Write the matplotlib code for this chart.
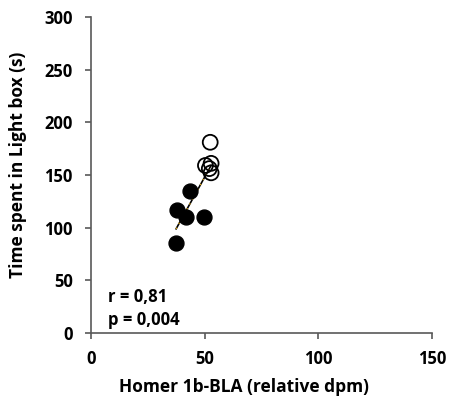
import numpy as np
import matplotlib.pyplot as plt

plt.rcParams['font.family'] = ['Open Sans', 'DejaVu Sans']
plt.rcParams['font.weight'] = 'bold'

# filled group
x_filled = [37.4, 37.8, 41.8, 43.6, 49.7]
y_filled = [85, 117, 110, 135, 110]
# open group
x_open = [50.3, 52.8, 52.0, 52.8, 52.4]
y_open = [159, 161, 156, 152, 181]

xlabel = 'Homer 1b-BLA (relative dpm)'
ylabel = 'Time spent in Light box (s)'
stats = ['r = 0,81', 'p = 0,004']

fig = plt.figure(figsize=(4.51, 4.04), dpi=100)
ax = fig.add_axes([0.202, 0.176, 0.756, 0.782])

xa = np.array(x_filled + x_open)
ya = np.array(y_filled + y_open)
m, b = np.polyfit(xa, ya, 1)
xs = np.array([xa.min(), xa.max()])
ax.plot(xs, m * xs + b, color='black', lw=1.2, zorder=1)
ax.plot(xs, m * xs + b, color='#d4a017', lw=1.0, ls=(0, (1, 3)), zorder=1)

ax.scatter(x_filled, y_filled, s=115, color='black', zorder=2)
ax.scatter(x_open, y_open, s=115, facecolors='none', edgecolors='black', linewidths=1.3, zorder=3)

ax.set_xlim(0, 150)
ax.set_ylim(0, 300)
ax.set_xticks([0, 50, 100, 150])
ax.set_yticks(range(0, 301, 50))
for s in ['top', 'right']:
    ax.spines[s].set_visible(False)
for s in ['left', 'bottom']:
    ax.spines[s].set_color('#595959')
    ax.spines[s].set_linewidth(1.2)
ax.tick_params(direction='out', length=4.3, width=1.2, color='#595959', labelsize=12)
ax.tick_params(axis='x', pad=8)
ax.tick_params(axis='y', pad=9)
for lbl in ax.get_xticklabels() + ax.get_yticklabels():
    lbl.set_fontweight('bold')

ax.set_xlabel(xlabel, fontsize=12.5, fontweight='bold')
ax.set_ylabel(ylabel, fontsize=12.5, fontweight='bold')
ax.xaxis.set_label_coords(0.449, -0.143)
ax.yaxis.set_label_coords(-0.188, 0.532)

ax.text(7.5, 34, stats[0], fontsize=12, fontweight='bold', va='center')
ax.text(7.5, 12, stats[1], fontsize=12, fontweight='bold', va='center')

fig.savefig('out.png', dpi=100)
